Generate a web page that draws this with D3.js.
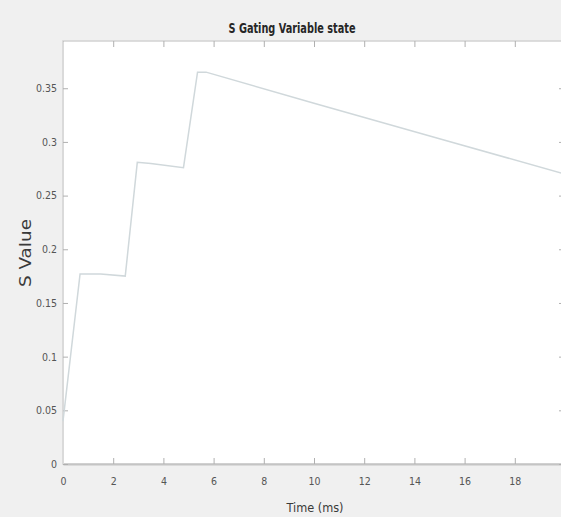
<!DOCTYPE html>
<html>
<head>
  <meta charset="utf-8">
  <title>S Gating Variable state</title>
  <script src="https://d3js.org/d3.v7.min.js" charset="utf-8"></script>
  <style>
    body { margin: 0; background: #f0f0f0; }
    text { font-family: "Liberation Sans Narrow", "DejaVu Sans Condensed", "Liberation Sans", Arial, sans-serif; }
  </style>
</head>
<body>
<script>
// values
var timeMs = [0, 0.68, 1.5, 2.48, 2.96, 3.5, 4.8, 5.36, 5.7, 10, 15, 20];
var sValue = [0.04, 0.177, 0.177, 0.175, 0.281, 0.280, 0.276, 0.365, 0.365, 0.336, 0.303, 0.270];
var xTicks = [0, 2, 4, 6, 8, 10, 12, 14, 16, 18];
var yTicks = [0, 0.05, 0.1, 0.15, 0.2, 0.25, 0.3, 0.35];

var w = 561, h = 517;
var mLeft = 63, mRight = 565, mTop = 41, mBottom = 464;

var svg = d3.select("body").append("svg")
  .attr("width", w)
  .attr("height", h);

var x = d3.scaleLinear().domain([0, 20]).range([mLeft, mRight]);
var y = d3.scaleLinear().domain([0, 0.394]).range([mBottom, mTop]);

// white axes area
svg.append("rect")
  .attr("x", mLeft).attr("y", mTop)
  .attr("width", mRight - mLeft).attr("height", mBottom - mTop)
  .attr("fill", "#ffffff")
  .attr("stroke", "#d2d2d2")
  .attr("stroke-width", 1.5);

// bottom axis, ticks pointing inside
var xAxis = svg.append("g")
  .attr("transform", "translate(0," + mBottom + ")")
  .call(d3.axisBottom(x).tickValues(xTicks).tickSizeInner(-6).tickSizeOuter(0).tickPadding(14)
    .tickFormat(d3.format("")));
xAxis.select(".domain").attr("stroke", "#c4c4c4").attr("stroke-width", 2);

var xTop = svg.append("g")
  .attr("transform", "translate(0," + mTop + ")")
  .call(d3.axisTop(x).tickValues(xTicks).tickSizeInner(-6).tickSizeOuter(0).tickFormat(""));
xTop.select(".domain").remove();

var yAxis = svg.append("g")
  .attr("transform", "translate(" + mLeft + ",0)")
  .call(d3.axisLeft(y).tickValues(yTicks).tickSizeInner(-5).tickSizeOuter(0).tickPadding(6)
    .tickFormat(function(d) { return d === 0 ? "0" : String(+d.toFixed(2)); }));
yAxis.select(".domain").attr("stroke", "#dadada");

var yRight = svg.append("g")
  .attr("transform", "translate(" + mRight + ",0)")
  .call(d3.axisRight(y).tickValues(yTicks).tickSizeInner(-6).tickSizeOuter(0).tickFormat(""));
yRight.select(".domain").remove();

svg.selectAll(".tick line").attr("stroke", "#b0b0b0");
svg.selectAll(".tick text")
  .attr("fill", "#555555")
  .attr("font-size", 10.5)
  .attr("font-family", "Liberation Sans Narrow, DejaVu Sans Condensed, Liberation Sans, Arial, sans-serif");

// the S trace
var line = d3.line()
  .x(function(d, i) { return x(timeMs[i]); })
  .y(function(d) { return y(d); });

svg.append("path")
  .attr("d", line(sValue))
  .attr("fill", "none")
  .attr("stroke", "#d0d8db")
  .attr("stroke-width", 1.5);

// texts
svg.append("text")
  .text("S Gating Variable state")
  .attr("x", 292).attr("y", 33)
  .attr("text-anchor", "middle")
  .attr("font-size", 14)
  .attr("font-weight", "bold")
  .attr("textLength", 127)
  .attr("lengthAdjust", "spacingAndGlyphs")
  .attr("fill", "#262626");

svg.append("text")
  .text("Time (ms)")
  .attr("x", 315).attr("y", 512)
  .attr("text-anchor", "middle")
  .attr("font-size", 13)
  .attr("textLength", 57)
  .attr("lengthAdjust", "spacingAndGlyphs")
  .attr("fill", "#3a3a3a");

svg.append("text")
  .text("S Value")
  .attr("transform", "translate(31,253) rotate(-90)")
  .attr("text-anchor", "middle")
  .attr("font-size", 15)
  .attr("textLength", 68)
  .attr("lengthAdjust", "spacingAndGlyphs")
  .attr("fill", "#3a3a3a");
</script>
</body>
</html>
